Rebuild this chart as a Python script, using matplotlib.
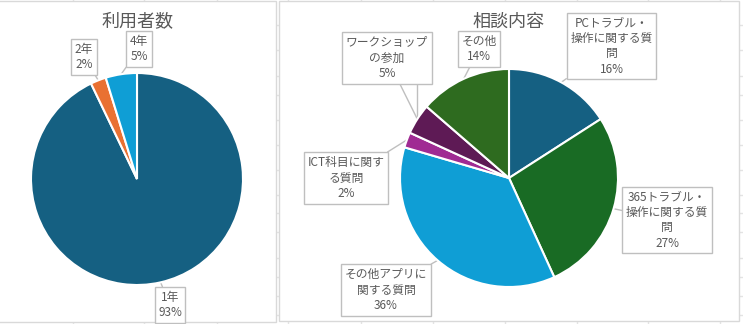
import matplotlib
matplotlib.use("Agg")
import numpy as np
import matplotlib.pyplot as plt
from matplotlib.patches import Rectangle

plt.rcParams['font.family'] = ['Noto Sans CJK JP', 'DejaVu Sans']

# data
users_labels = ['1年', '2年', '4年']
users_counts = [39, 1, 2]
users_colors = ['#156082', '#E97132', '#0F9ED5']

topic_labels = ['PCトラブル・\n操作に関する質\n問', '365トラブル・\n操作に関する質\n問',
                'その他アプリに\n関する質問', 'ICT科目に関す\nる質問',
                'ワークショップ\nの参加', 'その他']
topic_counts = [7, 12, 16, 1, 2, 6]
topic_colors = ['#156082', '#196B24', '#0F9ED5', '#A02B93', '#5E1A55', '#2E6B1F']

# layout (pixels)
W, H = 743, 324
TEXT = '#595959'
BORDER = '#BFBFBF'

fig = plt.figure(figsize=(W / 100, H / 100), dpi=100)
bg = fig.add_axes([0, 0, 1, 1])
bg.set_xlim(0, W)
bg.set_ylim(H, 0)
bg.axis('off')

# spreadsheet grid behind the charts
for x in [73, 144, 217, 288, 361, 433, 505, 577, 648, 720]:
    bg.axvline(x, color='#E3E3E3', lw=1, zorder=0)
for y in [25, 50, 76, 95, 120, 145, 170, 195, 213, 232, 258, 277, 296, 315]:
    bg.axhline(y, color='#E3E3E3', lw=1, zorder=0)

# chart areas
bg.add_patch(Rectangle((-2, 0.5), 278, 321.5, fc='white', ec='#D9D9D9', lw=1, zorder=1))
bg.add_patch(Rectangle((278.5, 0.5), 460.5, 320.5, fc='white', ec='#D9D9D9', lw=1, zorder=1))


def draw_pie(cx, cy, r, counts, colors):
    ax = fig.add_axes([(cx - r) / W, 1 - (cy + r) / H, 2 * r / W, 2 * r / H])
    wedges, _ = ax.pie(counts, colors=colors, startangle=90, counterclock=False,
                       wedgeprops=dict(edgecolor='white', linewidth=1.5))
    ax.set_xlim(-1, 1)
    ax.set_ylim(-1, 1)
    ax.axis('off')
    pts = []
    for w in wedges:
        t = np.radians((w.theta1 + w.theta2) / 2)
        pts.append((cx + r * np.cos(t), cy - r * np.sin(t)))
    return pts


def label(text, pt, pos):
    bg.annotate(text, xy=pt, xytext=pos, ha='center', va='center',
                fontsize=8.5, color=TEXT, linespacing=1.25, zorder=5,
                bbox=dict(boxstyle='square,pad=0.3', fc='white', ec=BORDER, lw=1),
                arrowprops=dict(arrowstyle='-', color=BORDER, lw=1,
                                shrinkA=0, shrinkB=0))


# 利用者数
bg.text(137, 22, '利用者数', ha='center', va='center', fontsize=13, color=TEXT, zorder=5)
pts = draw_pie(137, 179, 106, users_counts, users_colors)
users_pos = [(170, 305), (84, 57), (139, 49)]
tot = sum(users_counts)
for name, c, p, pos in zip(users_labels, users_counts, pts, users_pos):
    label(f'{name}\n{c / tot * 100:.0f}%', p, pos)

# 相談内容
bg.text(508, 22, '相談内容', ha='center', va='center', fontsize=13, color=TEXT, zorder=5)
pts = draw_pie(509, 178, 109, topic_counts, topic_colors)
topic_pos = [(611.5, 46), (667, 220), (386, 290), (346, 178), (387, 58), (479, 49)]
tot = sum(topic_counts)
for name, c, p, pos in zip(topic_labels, topic_counts, pts, topic_pos):
    label(f'{name}\n{c / tot * 100:.0f}%', p, pos)
# second leader of the workshop label
bg.plot([pts[4][0], pts[4][0]], [83, pts[4][1]], color=BORDER, lw=1, zorder=4)

fig.savefig('out.png', dpi=100)
